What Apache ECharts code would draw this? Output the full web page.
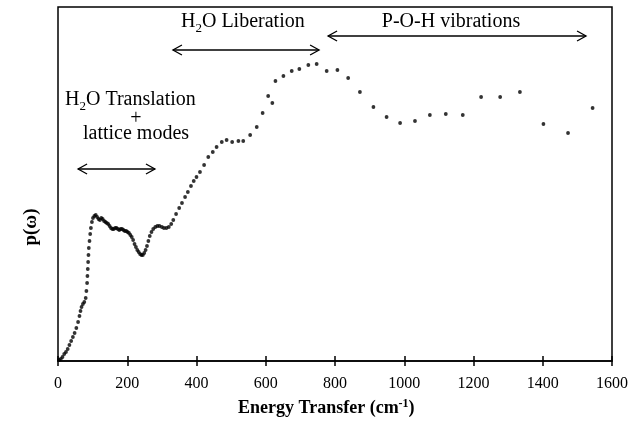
<!DOCTYPE html>
<html>
<head>
<meta charset="utf-8">
<script src="https://cdn.jsdelivr.net/npm/echarts@6/dist/echarts.min.js"></script>
<style>
  html, body { margin: 0; padding: 0; background: #fff; }
  #main { width: 644px; height: 433px; }
</style>
</head>
<body>
<div id="main"></div>
<script>
// energy transfer (cm-1) and p(omega) (arbitrary units)
var energy = [3, 8, 13, 18, 23, 28, 33, 38, 43, 48, 53, 58, 62, 65, 68, 72, 76, 80, 82, 84,
  85, 86, 87, 88, 89, 91, 93, 95, 98, 101, 105, 109, 113, 117, 121, 125, 129, 133, 137, 141,
  145, 149, 153, 157, 161, 165, 169, 173, 177, 181, 185, 189, 193, 197, 201, 205, 209, 213, 217, 221,
  225, 229, 233, 237, 241, 245, 249, 253, 257, 261, 265, 270, 275, 281, 287, 293, 300, 306, 313, 320,
  327, 333, 341, 350, 358, 367, 375, 384, 392, 400, 410, 422, 434, 447, 458, 473, 487, 503, 521, 535,
  555, 574, 591, 607, 619, 628, 651, 675, 697, 723, 747, 776, 807, 838, 872, 911, 949, 988, 1031, 1074,
  1120, 1169, 1222, 1277, 1334, 1402, 1473, 1544];
var density = [1, 2, 4, 7, 9, 12, 16, 20, 24, 28, 33, 39, 45, 50, 54, 57, 59, 63, 70, 78,
  85, 92, 99, 106, 113, 120, 127, 133, 139, 143, 145, 146, 144, 142, 141, 143, 142, 140, 139, 138,
  137, 135, 133, 132, 132, 133, 133, 132, 131, 132, 132, 131, 130, 130, 129, 128, 126, 124, 121, 117,
  114, 111, 109, 107, 106, 106, 108, 111, 115, 120, 125, 129, 132, 134, 135, 135, 134, 133, 133, 134,
  137, 141, 147, 153, 158, 164, 169, 175, 180, 184, 189, 196, 204, 209, 214, 219, 221, 219, 220, 220,
  226, 234, 248, 265, 258, 280, 285, 290, 292, 296, 297, 290, 291, 283, 269, 254, 244, 238, 240, 246,
  247, 246, 264, 264, 269, 237, 228, 253];

var xTicks = [0, 1600, 200];

// annotation ranges: [from, to, height]
var translationRange = [58, 280, 192];
var liberationRange = [332, 754, 311];
var pohRange = [780, 1525, 325];

var serif = 'Liberation Serif';

var myChart = echarts.init(document.getElementById('main'));

var points = [];
for (var i = 0; i < energy.length; i++) {
  points.push([energy[i], density[i]]);
}

option = {
  animation: false,
  backgroundColor: '#fff',
  grid: {
    left: 58,
    right: 32,
    top: 7,
    bottom: 72,
    show: true,
    borderColor: '#000',
    borderWidth: 1.5
  },
  xAxis: [
    {
      type: 'value',
      min: xTicks[0],
      max: xTicks[1],
      interval: xTicks[2],
      axisLine: { show: true, lineStyle: { color: '#000', width: 1.5 } },
      axisTick: { show: true, length: 5, lineStyle: { color: '#000', width: 1.5 } },
      axisLabel: {
        color: '#000', fontFamily: serif, fontSize: 16, margin: 15,
        formatter: function (v) { return String(v); }
      },
      splitLine: { show: false }
    },
    {
      type: 'value',
      position: 'bottom',
      min: xTicks[0],
      max: xTicks[1],
      interval: xTicks[2],
      axisLine: { show: false },
      axisTick: { show: true, inside: true, length: 5, lineStyle: { color: '#000', width: 1.5 } },
      axisLabel: { show: false },
      splitLine: { show: false }
    }
  ],
  yAxis: {
    type: 'value',
    min: 0,
    max: 354,
    show: false
  },
  series: [
    {
      type: 'scatter',
      data: points,
      symbol: 'circle',
      symbolSize: 3.8,
      itemStyle: { color: '#000' }
    }
  ]
};

myChart.setOption(option);

function arrow(range) {
  var a = myChart.convertToPixel({ gridIndex: 0 }, [range[0], range[2]]);
  var b = myChart.convertToPixel({ gridIndex: 0 }, [range[1], range[2]]);
  var st = { stroke: '#000', lineWidth: 1.3, fill: null };
  return [
    { type: 'line', shape: { x1: a[0], y1: a[1], x2: b[0], y2: b[1] }, style: st },
    { type: 'polyline', shape: { points: [[a[0] + 9, a[1] - 5], [a[0], a[1]], [a[0] + 9, a[1] + 5]] }, style: st },
    { type: 'polyline', shape: { points: [[b[0] - 9, b[1] - 5], [b[0], b[1]], [b[0] - 9, b[1] + 5]] }, style: st }
  ];
}

var rich = {
  n: { fontFamily: serif, fontSize: 20, color: '#000' },
  s: { fontFamily: serif, fontSize: 13, color: '#000', padding: [14, 0, 0, 0] }
};

var elements = []
  .concat(arrow(translationRange))
  .concat(arrow(liberationRange))
  .concat(arrow(pohRange));

elements.push(
  { type: 'text', left: 65, top: 90, style: { text: '{n|H}{s|2}{n|O Translation}', rich: rich } },
  { type: 'text', x: 136, y: 119, style: { text: '+', fontFamily: serif, fontSize: 20, fill: '#000', align: 'center', verticalAlign: 'middle' } },
  { type: 'text', x: 136, y: 134, style: { text: 'lattice modes', fontFamily: serif, fontSize: 20, fill: '#000', align: 'center', verticalAlign: 'middle' } },
  { type: 'text', left: 181, top: 12, style: { text: '{n|H}{s|2}{n|O Liberation}', rich: rich } },
  { type: 'text', x: 451, y: 22, style: { text: 'P-O-H vibrations', fontFamily: serif, fontSize: 20, fill: '#000', align: 'center', verticalAlign: 'middle' } },
  {
    type: 'text', x: 31, y: 227, rotation: Math.PI / 2,
    style: { text: 'p(ω)', fontFamily: serif, fontWeight: 'bold', fontSize: 19, fill: '#000', align: 'center', verticalAlign: 'middle' }
  },
  {
    type: 'text', left: 238, top: 398,
    style: {
      text: '{t|Energy Transfer (cm}{u|-1}{t|)}',
      rich: {
        t: { fontFamily: serif, fontWeight: 'bold', fontSize: 18, color: '#000' },
        u: { fontFamily: serif, fontWeight: 'bold', fontSize: 12, color: '#000', padding: [0, 0, 9, 0] }
      }
    }
  }
);

myChart.setOption({ graphic: elements });
</script>
</body>
</html>
